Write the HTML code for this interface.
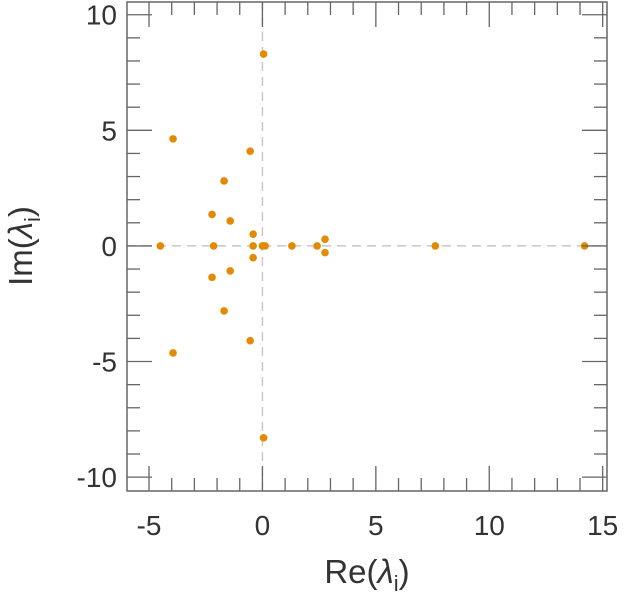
<!DOCTYPE html>
<html><head><meta charset="utf-8"><style>
html,body{margin:0;padding:0;background:#fff;}
svg{display:block;font-family:"Liberation Sans",sans-serif;}
</style></head><body>
<svg id="chart" width="633" height="600" viewBox="0 0 633 600" xmlns="http://www.w3.org/2000/svg">
<g id="grid"></g>
<g id="points"></g>
<g id="axes"></g>
<text x="367" y="583" font-size="33" text-anchor="middle" fill="#333">Re(<tspan font-style="italic">λ</tspan><tspan font-size="22" dy="8">i</tspan><tspan dy="-8">)</tspan></text>
<text transform="translate(32,246) rotate(-90)" font-size="33" text-anchor="middle" fill="#333">Im(<tspan font-style="italic">λ</tspan><tspan font-size="22" dy="8">i</tspan><tspan dy="-8">)</tspan></text>
</svg>
<script>
const reVals = [0.05,-3.94,-0.54,-1.69,-2.22,-1.42,-0.41,-4.5,-2.15,-0.41,0.12,0.0,1.3,2.41,2.76,2.76,7.62,14.2,-2.22,-1.42,-0.41,-1.69,-0.54,-3.94,0.05];
const imVals = [8.3,4.63,4.1,2.81,1.36,1.08,0.51,0,0,0,0,0,0,0,0.29,-0.29,0,0,-1.36,-1.08,-0.51,-2.81,-4.1,-4.63,-8.3];
const xTicks = [-5,0,5,10,15];
const yTicks = [-10,-5,0,5,10];
const xMin=-5.97,xMax=15.19,yMin=-10.6,yMax=10.55;
const L=127,R=607,T=2,B=491;
const sx=v=>L+(v-xMin)/(xMax-xMin)*(R-L);
const sy=v=>B-(v-yMin)/(yMax-yMin)*(B-T);
const NS="http://www.w3.org/2000/svg";
function mk(tag,attrs,parent){const e=document.createElementNS(NS,tag);for(const k in attrs)e.setAttribute(k,attrs[k]);parent.appendChild(e);return e;}
const grid=document.getElementById('grid'),pts=document.getElementById('points'),axes=document.getElementById('axes');
let g1=mk('line',{x1:sx(0),x2:sx(0),y1:T,y2:B,stroke:'#c8c8c8','stroke-width':1.5,'stroke-dasharray':'9,6'},grid);


let g2=mk('line',{x1:L,x2:R,y1:sy(0),y2:sy(0),stroke:'#c8c8c8','stroke-width':1.5,'stroke-dasharray':'9,6'},grid);


reVals.forEach((r,i)=>{
  const c=mk('circle',{cx:sx(r),cy:sy(imVals[i]),r:3.8,fill:'#e38a00'},pts);
  
  
});
const fr=mk('rect',{x:L,y:T,width:R-L,height:B-T,fill:'none',stroke:'#666','stroke-width':1.5},axes);


for(let v=-5;v<=15;v++){
  const len=(v%5===0)?25:13;
  mk('line',{x1:sx(v),x2:sx(v),y1:B,y2:B-len,stroke:'#666','stroke-width':1.3},axes);
  mk('line',{x1:sx(v),x2:sx(v),y1:T,y2:T+len,stroke:'#666','stroke-width':1.3},axes);
}
for(let v=-10;v<=10;v++){
  const len=(v%5===0)?25:13;
  mk('line',{x1:L,x2:L+len,y1:sy(v),y2:sy(v),stroke:'#666','stroke-width':1.3},axes);
  mk('line',{x1:R,x2:R-len,y1:sy(v),y2:sy(v),stroke:'#666','stroke-width':1.3},axes);
}
xTicks.forEach(v=>{
  const t=mk('text',{x:sx(v),y:535,'font-size':28,'text-anchor':'middle',fill:'#333'},axes);
  t.textContent=String(v);
  
  
});
yTicks.forEach(v=>{
  const t=mk('text',{x:117,y:sy(v)+10,'font-size':28,'text-anchor':'end',fill:'#333'},axes);
  t.textContent=String(v);
  
  
});
</script>
</body></html>
